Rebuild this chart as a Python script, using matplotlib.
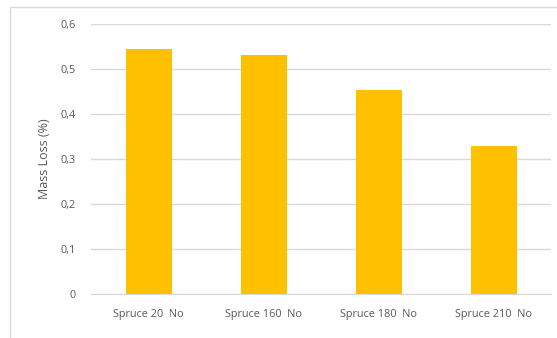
import matplotlib.pyplot as plt
from matplotlib.patches import Rectangle
from matplotlib.ticker import FuncFormatter

# Mass loss per spruce sample
samples = ['Spruce 20  No', 'Spruce 160  No', 'Spruce 180  No', 'Spruce 210  No']
mass_loss = [0.544, 0.531, 0.453, 0.329]
y_ticks = [0, 0.1, 0.2, 0.3, 0.4, 0.5, 0.6]

plt.rcParams['font.family'] = ['Open Sans', 'DejaVu Sans']
text_color = '#595959'

fig = plt.figure(figsize=(5.57, 3.38), dpi=100)
ax = fig.add_axes([91 / 557, 44 / 338, 460 / 557, 270 / 338])

# light frame round the chart area
fig.patches.append(Rectangle((10 / 557, -0.1), 1.2, 1 - 7 / 338 + 0.1,
                             transform=fig.transFigure, fill=False,
                             edgecolor='#d9d9d9', linewidth=1))

ax.bar(range(len(samples)), mass_loss, width=0.4, color='#ffc000', zorder=3)

ax.set_xlim(-0.5, len(samples) - 0.5)
ax.set_ylim(0, 0.6)
ax.set_yticks(y_ticks)
ax.yaxis.set_major_formatter(FuncFormatter(lambda v, _: '0' if v == 0 else f'{v:.1f}'.replace('.', ',')))
ax.set_xticks(range(len(samples)))
ax.set_xticklabels(samples)

ax.grid(axis='y', color='#d9d9d9', linewidth=1, zorder=0)
for side in ['top', 'right', 'left']:
    ax.spines[side].set_visible(False)
ax.spines['bottom'].set_color('#d9d9d9')
ax.tick_params(axis='both', length=0, labelsize=7.8, labelcolor=text_color)
ax.tick_params(axis='y', pad=11)
ax.tick_params(axis='x', pad=11)

ax.set_ylabel('Mass Loss (%)', fontsize=9, color=text_color, labelpad=7)

fig.savefig('out.png', dpi=100)
